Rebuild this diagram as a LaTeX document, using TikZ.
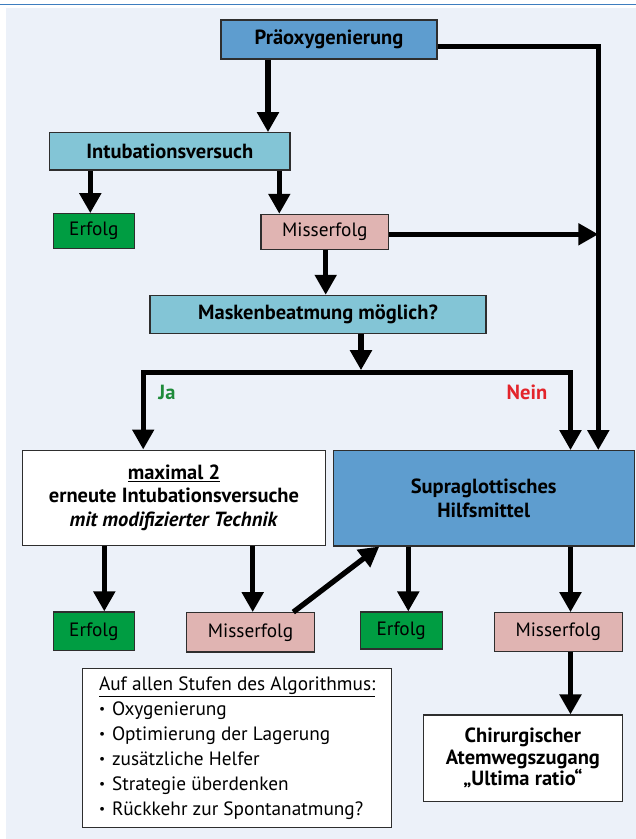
\documentclass[tikz,border=0pt]{standalone}
\usepackage{fontspec}
\setmainfont{PT Sans}
\usetikzlibrary{arrows.meta,calc}
\definecolor{bgc}{HTML}{ECF1F9}
\definecolor{topc}{HTML}{3D7DBF}
\definecolor{bluec}{HTML}{5E9DCF}
\definecolor{tealc}{HTML}{83C5D6}
\definecolor{greenc}{HTML}{009D42}
\definecolor{pinkc}{HTML}{E0B4B2}
\definecolor{bordc}{HTML}{2E2E2E}
\definecolor{jac}{HTML}{1E8B3A}
\definecolor{neinc}{HTML}{E3242B}
\newcommand{\mybul}{\makebox[13pt][l]{\raisebox{1.8pt}{\scalebox{0.7}{\textbullet}}}}
\begin{document}
\begin{tikzpicture}[x=1pt,y=-1pt,
  box/.style={draw=bordc, line width=1.1pt, rectangle, inner sep=0pt, align=center},
  hfont/.style={font=\bfseries\fontsize{20.5}{23.5}\selectfont},
  rfont/.style={font=\fontsize{19.3}{23}\selectfont},
  arr/.style={line width=5.3pt, -{Triangle[width=21pt,length=20pt]}},
  lab/.style={font=\bfseries\fontsize{20.5}{20.5}\selectfont, inner sep=0pt}]
\useasboundingbox (0,0) rectangle (636,839);
\fill[white] (0,0) rectangle (636,839);
\fill[bgc] (6,8) rectangle (636,839);
\draw[topc, line width=1.6pt] (0,4.5) -- (636,4.5);

% nodes
\node[box, hfont, fill=bluec, minimum width=216pt, minimum height=39pt] (pra) at (329,39.5) {Präoxygenierung};
\node[box, hfont, fill=tealc, minimum width=240.5pt, minimum height=37.3pt] (intub) at (169.75,151.35) {Intubationsversuch};
\node[box, rfont, fill=greenc, minimum width=81pt, minimum height=34.6pt] (e1) at (93.8,231) {Erfolg};
\node[box, rfont, fill=pinkc, minimum width=127.7pt, minimum height=35pt] (m1) at (324.85,231.8) {Misserfolg};
\node[box, hfont, fill=tealc, minimum width=336pt, minimum height=37.7pt] (mask) at (318,314.2) {Maskenbeatmung möglich?};
\node[box, hfont, fill=white, minimum width=302.6pt, minimum height=95.3pt] (maxb) at (174,497.7)
  {\underline{maximal 2}\\erneute Intubationsversuche\\\textit{mit modifizierter Technik}};
\node[box, hfont, fill=bluec, minimum width=300.7pt, minimum height=95.3pt] (supra) at (483.7,498.3)
  {Supraglottisches\\Hilfsmittel};
\node[box, rfont, fill=greenc, minimum width=81pt, minimum height=38.7pt] (e2) at (93.8,631.3) {Erfolg};
\node[box, rfont, fill=pinkc, minimum width=127.6pt, minimum height=39.3pt] (m2) at (250.5,632.3) {Misserfolg};
\node[box, rfont, fill=greenc, minimum width=81.7pt, minimum height=37pt] (e3) at (401.2,630.5) {Erfolg};
\node[box, rfont, fill=pinkc, minimum width=128.3pt, minimum height=38.6pt] (m3) at (558.2,632) {Misserfolg};
\node[box, fill=white, minimum width=309pt, minimum height=159.4pt, align=left, font=\fontsize{19.3}{25}\selectfont] (auf) at (237.2,748)
  {\underline{Auf allen Stufen des Algorithmus:}\\
   \mybul Oxygenierung\\
   \mybul Optimierung der Lagerung\\
   \mybul zusätzliche Helfer\\
   \mybul Strategie überdenken\\
   \mybul Rückkehr zur Spontanatmung?};
\node[box, fill=white, minimum width=199.2pt, minimum height=86.7pt, font=\bfseries\fontsize{20.5}{21.5}\selectfont] (chir) at (522.9,758.35)
  {Chirurgischer\\Atemwegszugang\\„Ultima ratio“};
\node[lab, text=jac] (ja) at (167,392) {Ja};
\node[lab, text=neinc] (nein) at (527,392) {Nein};

% helper coordinates
\coordinate (c1) at (268,0);
\coordinate (c2) at (598.3,0);
\coordinate (c3) at (90.3,0);
\coordinate (c4) at (279.3,0);
\coordinate (c5) at (325.7,0);
\coordinate (c6) at (361,0);
\coordinate (c7) at (143.2,0);
\coordinate (c8) at (570.5,0);
\coordinate (c9) at (104.3,0);
\coordinate (c10) at (252.7,0);
\coordinate (c11) at (408.3,0);
\coordinate (d1) at (293.3,0);
\coordinate (d2) at (379.3,0);
\coordinate (r0) at (0,46.7);
\coordinate (r1) at (0,234.3);
\coordinate (jn) at (361,372.8);
\coordinate (jt) at (361,370.2);

% connectors
\draw[arr] (pra.south -| c1) -- (intub.north -| c1);
\draw[arr] (pra.east |- r0) -- (r0 -| c2) -- (supra.north -| c2);
\draw[arr] (intub.south -| c3) -- (e1.north -| c3);
\draw[arr] (intub.south -| c4) -- (m1.north -| c4);
\draw[arr] (m1.east |- r1) -- (r1 -| c2);
\draw[arr] (m1.south -| c5) -- (mask.north -| c5);
\draw[arr] (mask.south -| c6) -- (jt);
\draw[arr] (jn) -| (maxb.north -| c7);
\draw[arr] (jn) -| (supra.north -| c8);
\draw[arr] (maxb.south -| c9) -- (e2.north -| c9);
\draw[arr] (maxb.south -| c10) -- (m2.north -| c10);
\draw[arr] (m2.north -| d1) -- (supra.south -| d2);
\draw[arr] (supra.south -| c11) -- (e3.north -| c11);
\draw[arr] (supra.south -| c8) -- (m3.north -| c8);
\draw[arr] (m3.south -| c8) -- (chir.north -| c8);
\end{tikzpicture}
\end{document}
